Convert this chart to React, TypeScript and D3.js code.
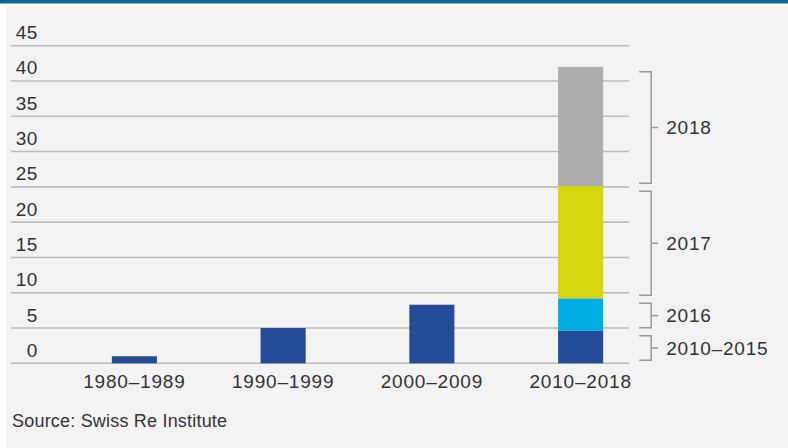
import React from "react";
import * as d3 from "d3";

const width = 788;
const height = 448;

// decades shown as single bars
const categories = ["1980–1989", "1990–1999", "2000–2009", "2010–2018"];
const decadeValues = [1.0, 5.0, 8.3];

// the last bar is split by year
const stackLabels = ["2010–2015", "2016", "2017", "2018"];
const stackValues = [4.6, 4.6, 15.9, 16.9];
const stackColors = ["#234b98", "#00aee6", "#d5d70e", "#adadad"];

const yTicks = [0, 5, 10, 15, 20, 25, 30, 35, 40, 45];
const source = "Source: Swiss Re Institute";

const font = "'Liberation Sans', Arial, sans-serif";
const textColor = "#333";

export default function App() {
  const x = d3
    .scaleBand<string>()
    .domain(categories)
    .range([60, 655])
    .paddingInner(0.697)
    .paddingOuter(0.3485);

  const y = d3.scaleLinear().domain([0, 45]).range([363.3, 45.7]);

  // stacked segments for 2010–2018
  const stacked = d3.stack<any>().keys(stackLabels)([
    Object.fromEntries(stackLabels.map((k, i) => [k, stackValues[i]])),
  ]);

  const lastCat = categories[3];
  const bx = x(lastCat)!;
  const bw = x.bandwidth();
  const bracketX = bx + bw + 48;

  return (
    <svg
      width={width}
      height={height}
      style={{ position: "absolute", left: 0, top: 0 }}
    >
      <rect x={0} y={0} width={width} height={height} fill="#fff" />
      <rect x={6} y={6} width={width - 6} height={height - 6} fill="#f3f3f3" />
      <rect x={0} y={0} width={width} height={3.5} fill="#076b91" />

      {/* grid + y labels */}
      {yTicks.map((t) => (
        <g key={t}>
          <line
            x1={11}
            x2={629}
            y1={y(t)}
            y2={y(t)}
            stroke="#bcbcbc"
            strokeWidth={1.6}
          />
          <text
            x={38}
            y={y(t) - 6.5}
            textAnchor="end"
            fontFamily={font}
            fontSize={19}
            letterSpacing={0.6}
            fill={textColor}
          >
            {t}
          </text>
        </g>
      ))}

      {/* decade bars */}
      {decadeValues.map((v, i) => (
        <rect
          key={categories[i]}
          x={x(categories[i])}
          y={y(v)}
          width={bw}
          height={y(0) - y(v)}
          fill="#234b98"
        />
      ))}

      {/* stacked bar */}
      {stacked.map((s, i) => {
        const [y0, y1] = s[0];
        return (
          <rect
            key={s.key}
            x={bx}
            y={y(y1)}
            width={bw}
            height={y(y0) - y(y1)}
            fill={stackColors[i]}
          />
        );
      })}

      {/* brackets */}
      {stacked.map((s) => {
        const [y0, y1] = s[0];
        const top = y(y1) + 5;
        const bot = y(y0) - 3;
        const mid = (top + bot) / 2;
        return (
          <g key={"b" + s.key} stroke="#9a9a9a" strokeWidth={1.5} fill="none">
            <path
              d={`M${bracketX - 12},${top}H${bracketX}V${bot}H${bracketX - 12}`}
            />
            <line x1={bracketX} x2={bracketX + 7} y1={mid} y2={mid} />
            <text
              x={bracketX + 15}
              y={mid}
              dy="0.36em"
              stroke="none"
              fill={textColor}
              fontFamily={font}
              fontSize={19}
              letterSpacing={0.8}
            >
              {s.key}
            </text>
          </g>
        );
      })}

      {/* x labels */}
      {categories.map((c) => (
        <text
          key={c}
          x={x(c)! + bw / 2}
          y={388}
          textAnchor="middle"
          fontFamily={font}
          fontSize={19}
          letterSpacing={0.8}
          fill={textColor}
        >
          {c}
        </text>
      ))}

      <text
        x={12}
        y={426.5}
        fontFamily={font}
        fontSize={18}
        letterSpacing={0.2}
        fill={textColor}
      >
        {source}
      </text>
    </svg>
  );
}
